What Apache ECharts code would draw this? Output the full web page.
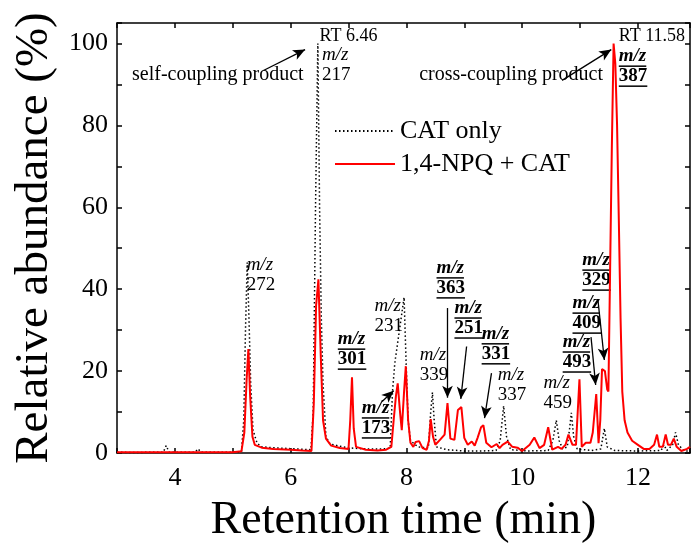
<!DOCTYPE html>
<html>
<head>
<meta charset="utf-8">
<script src="https://cdn.jsdelivr.net/npm/echarts@6/dist/echarts.min.js"></script>
<style>
  html, body { margin: 0; padding: 0; background: #fff; }
  #main { width: 692px; height: 545px; }
</style>
</head>
<body>
<div id="main"></div>
<script>
// CAT only (dotted black trace), retention time (min) / relative abundance (%)
var catTime = [3.0, 3.3, 3.6, 3.8, 3.85, 3.9, 4.2, 4.35, 4.4, 4.45, 4.7, 5.0, 5.15, 5.19, 5.22, 5.25, 5.28, 5.31, 5.35, 5.42,
  5.5, 5.8, 6.1, 6.35, 6.39, 6.43, 6.47, 6.5, 6.53, 6.56, 6.61, 6.68, 6.9, 7.05, 7.3, 7.6, 7.72, 7.76, 7.8, 7.84,
  7.88, 7.92, 7.96, 8.0, 8.03, 8.07, 8.2, 8.38, 8.42, 8.45, 8.48, 8.52, 8.7, 9.0, 9.3, 9.55, 9.62, 9.68, 9.73, 9.8,
  10.1, 10.45, 10.53, 10.59, 10.64, 10.7, 10.78, 10.82, 10.85, 10.89, 10.95, 11.2, 11.36, 11.42, 11.47, 11.6, 12.0, 12.4, 12.45, 12.5,
  12.6, 12.65, 12.7, 12.8, 12.9];
var catAbund = [0.2, 0.1, 0.2, 0.2, 1.8, 0.2, 0.2, 0.2, 1.0, 0.2, 0.2, 0.2, 0.3, 8, 30, 46.5, 33, 17, 5.6, 2.4,
  1.5, 1.2, 1.0, 0.8, 10, 60, 100, 60, 33, 17, 4, 2.2, 1.5, 1.2, 1.0, 1.0, 1.2, 15, 22, 26,
  30, 34, 38, 20, 8, 3, 1.5, 1.2, 10, 14.8, 8, 1.5, 0.8, 0.5, 0.5, 0.6, 3, 11.5, 4, 0.8,
  0.5, 0.6, 3, 8, 3, 1, 1.5, 6, 9.8, 4, 1, 0.6, 1, 6, 1.5, 0.6, 0.5, 0.6, 2, 0.6,
  2, 5, 2, 0.5, 0.5];

// 1,4-NPQ + CAT (red trace)
var npqTime = [3.0, 4.0, 5.0, 5.15, 5.2, 5.24, 5.27, 5.3, 5.34, 5.38, 5.5, 5.7, 6.0, 6.2, 6.36, 6.4, 6.44, 6.48, 6.52, 6.56,
  6.61, 6.7, 6.85, 7.0, 7.03, 7.06, 7.09, 7.13, 7.3, 7.5, 7.65, 7.74, 7.78, 7.82, 7.85, 7.89, 7.92, 7.96, 7.99, 8.03,
  8.07, 8.12, 8.16, 8.22, 8.28, 8.35, 8.39, 8.42, 8.46, 8.5, 8.58, 8.66, 8.71, 8.76, 8.83, 8.89, 8.95, 9.0, 9.06, 9.13,
  9.18, 9.23, 9.29, 9.33, 9.38, 9.47, 9.56, 9.61, 9.66, 9.75, 9.83, 9.92, 10.0, 10.13, 10.21, 10.3, 10.38, 10.45, 10.52, 10.62,
  10.68, 10.75, 10.8, 10.87, 10.93, 10.96, 10.99, 11.03, 11.1, 11.18, 11.22, 11.28, 11.32, 11.35, 11.38, 11.43, 11.47, 11.49, 11.52, 11.55,
  11.58, 11.61, 11.64, 11.67, 11.7, 11.73, 11.77, 11.82, 11.9, 12.0, 12.1, 12.2, 12.28, 12.33, 12.37, 12.43, 12.48, 12.52, 12.57, 12.62,
  12.67, 12.75, 12.85, 12.9];
var npqAbund = [0.2, 0.2, 0.2, 0.4, 5, 18, 25.4, 14, 4, 2, 1.3, 1, 0.8, 0.6, 0.5, 12, 36, 42.4, 24, 8,
  3.5, 1.8, 1.2, 1, 8, 18.5, 6, 1.5, 0.8, 0.6, 0.8, 1.5, 8, 14, 17, 10, 5.6, 15, 21.2, 8,
  2.5, 1.5, 2.7, 2.9, 1.2, 0.8, 3, 8.3, 4, 2, 3.2, 4.5, 12.2, 3.5, 3.2, 10.5, 11.2, 3.7, 2, 2.8,
  1.8, 3.7, 6.3, 6.8, 2.5, 1.4, 2.2, 1.2, 2, 2.8, 1.5, 1.3, 0.5, 2, 3.8, 1.2, 2, 6.3, 0.8, 1.5,
  1, 2, 4.5, 2, 2, 10, 18, 1.5, 2.5, 2.5, 5, 14.4, 2.4, 8, 20.5, 20, 15.5, 15, 45, 75,
  100, 95, 80, 57, 33, 15, 8, 5, 3, 2, 1, 1, 2, 4.5, 1.5, 1.5, 4.5, 2, 2, 3.5,
  1.5, 0.5, 1, 1.5];

var xTicks = [4, 6, 8, 10, 12];
var yTicks = [0, 20, 40, 60, 80, 100];

// annotation labels: [time, abundance] of the first line, lines, bold+underlined
var peakLabels = [
  { at: [5.24, 45.9], lines: ['m/z', '272'], bold: false },
  { at: [6.54, 97.2], lines: ['m/z', '217'], bold: false },
  { at: [6.815, 27.8], lines: ['m/z', '301'], bold: true },
  { at: [7.23, 11.0], lines: ['m/z', '173'], bold: true },
  { at: [7.45, 35.9], lines: ['m/z', '231'], bold: false },
  { at: [8.23, 23.9], lines: ['m/z', '339'], bold: false },
  { at: [8.52, 45.2], lines: ['m/z', '363'], bold: true },
  { at: [8.83, 35.4], lines: ['m/z', '251'], bold: true },
  { at: [9.30, 29.1], lines: ['m/z', '331'], bold: true },
  { at: [9.58, 19.0], lines: ['m/z', '337'], bold: false },
  { at: [10.37, 17.1], lines: ['m/z', '459'], bold: false },
  { at: [10.70, 27.1], lines: ['m/z', '493'], bold: true },
  { at: [10.87, 36.6], lines: ['m/z', '409'], bold: true },
  { at: [11.04, 47.1], lines: ['m/z', '329'], bold: true },
  { at: [11.67, 96.9], lines: ['m/z', '387'], bold: true }
];
var plainLabels = [
  { at: [6.50, 101.8], text: 'RT 6.46', size: 18 },
  { at: [11.67, 101.8], text: 'RT 11.58', size: 18 },
  { at: [3.26, 92.3], text: 'self-coupling product', size: 20 },
  { at: [8.22, 92.3], text: 'cross-coupling product', size: 20 }
];
var arrows = [
  [[5.53, 93.4], [6.25, 98.5]],
  [[10.69, 91.0], [11.54, 98.5]],
  [[7.58, 12.6], [7.78, 15.2]],
  [[8.71, 35.4], [8.71, 13.5]],
  [[9.04, 26.0], [8.94, 13.2]],
  [[9.47, 19.5], [9.35, 8.5]],
  [[11.19, 28.3], [11.27, 16.6]],
  [[11.31, 37.3], [11.42, 22.7]]
];

function pairs(xs, ys) {
  var out = [];
  for (var i = 0; i < xs.length; i++) out.push([xs[i], ys[i]]);
  return out;
}

var serif = '"Liberation Serif", "Times New Roman", serif';
var chart = echarts.init(document.getElementById('main'), null, { renderer: 'canvas' });

var axisLine = { show: true, onZero: false, lineStyle: { color: '#000', width: 1.5 } };
var tick = { show: true, inside: true, length: 5, lineStyle: { color: '#000', width: 1.5 } };

var option = {
  backgroundColor: '#fff',
  animation: false,
  grid: { left: 117, right: 2, top: 23, bottom: 92, containLabel: false, outerBoundsMode: 'none' },
  legend: {
    orient: 'vertical',
    left: 329,
    top: 113,
    itemWidth: 60,
    itemHeight: 14,
    itemGap: 7,
    itemStyle: { opacity: 0 },
    data: ['CAT only', '1,4-NPQ + CAT'],
    textStyle: { fontFamily: serif, fontSize: 26, color: '#000' }
  },
  xAxis: [
    {
      type: 'value', min: 3, max: 12.9, interval: 1, position: 'bottom',
      axisLine: axisLine, axisTick: tick, splitLine: { show: false },
      axisLabel: {
        margin: 12, color: '#000', fontFamily: serif, fontSize: 26,
        formatter: function (v) { return xTicks.indexOf(v) >= 0 ? String(v) : ''; }
      },
      name: 'Retention time (min)', nameLocation: 'middle', nameGap: 45,
      nameTextStyle: { fontFamily: serif, fontSize: 46, color: '#000' }
    },
    {
      type: 'value', min: 3, max: 12.9, interval: 1, position: 'top',
      axisLine: axisLine, axisTick: tick, axisLabel: { show: false }, splitLine: { show: false }
    }
  ],
  yAxis: [
    {
      type: 'value', min: 0, max: 105, interval: 10, position: 'left',
      axisLine: axisLine, axisTick: tick, splitLine: { show: false },
      axisLabel: {
        margin: 9, color: '#000', fontFamily: serif, fontSize: 26,
        formatter: function (v) { return yTicks.indexOf(v) >= 0 ? String(v) : ''; }
      },
      name: 'Relative abundance (%)', nameLocation: 'middle', nameGap: 54,
      nameTextStyle: { fontFamily: serif, fontSize: 47, color: '#000' }
    },
    {
      type: 'value', min: 0, max: 105, interval: 10, position: 'right',
      axisLine: axisLine, axisTick: tick, axisLabel: { show: false }, splitLine: { show: false }
    }
  ],
  series: [
    {
      name: 'CAT only', type: 'line', symbol: 'none', xAxisIndex: 0, yAxisIndex: 0,
      data: pairs(catTime, catAbund),
      itemStyle: { color: '#000' },
      lineStyle: { color: '#000', width: 1.5, type: [1.5, 2.5] },
      markLine: {
        silent: true, symbol: ['none', 'arrow'], symbolSize: [8, 12],
        label: { show: false },
        lineStyle: { color: '#000', width: 1.3, type: 'solid' },
        data: arrows.map(function (a) { return [{ coord: a[0] }, { coord: a[1] }]; })
      }
    },
    {
      name: '1,4-NPQ + CAT', type: 'line', symbol: 'none', xAxisIndex: 0, yAxisIndex: 0,
      data: pairs(npqTime, npqAbund),
      itemStyle: { color: '#ff0000' },
      lineStyle: { color: '#ff0000', width: 2 }
    }
  ]
};
chart.setOption(option);

// text annotations placed from data coordinates
var ctx = document.createElement('canvas').getContext('2d');
function textWidth(str, font) { ctx.font = font; return ctx.measureText(str).width; }

var els = [];
var lineGap = 20;
peakLabels.forEach(function (p) {
  var pt = chart.convertToPixel({ xAxisIndex: 0, yAxisIndex: 0 }, p.at);
  p.lines.forEach(function (s, i) {
    var italic = i === 0;
    var weight = p.bold ? 'bold' : 'normal';
    var y = pt[1] + i * lineGap;
    els.push({
      type: 'text', silent: true,
      style: {
        text: s, x: pt[0], y: y, verticalAlign: 'middle', align: 'left',
        fontFamily: serif, fontSize: 19, fontWeight: weight,
        fontStyle: italic ? 'italic' : 'normal', fill: '#000'
      }
    });
    if (p.bold) {
      var w = textWidth(s, (italic ? 'italic ' : '') + 'bold 19px ' + serif);
      els.push({
        type: 'line', silent: true,
        shape: { x1: pt[0], y1: y + 10, x2: pt[0] + w, y2: y + 10 },
        style: { stroke: '#000', lineWidth: 1.5 }
      });
    }
  });
});
plainLabels.forEach(function (p) {
  var pt = chart.convertToPixel({ xAxisIndex: 0, yAxisIndex: 0 }, p.at);
  els.push({
    type: 'text', silent: true,
    style: {
      text: p.text, x: pt[0], y: pt[1], verticalAlign: 'middle', align: 'left',
      fontFamily: serif, fontSize: p.size, fill: '#000'
    }
  });
});
chart.setOption({ graphic: els });
</script>
</body>
</html>
